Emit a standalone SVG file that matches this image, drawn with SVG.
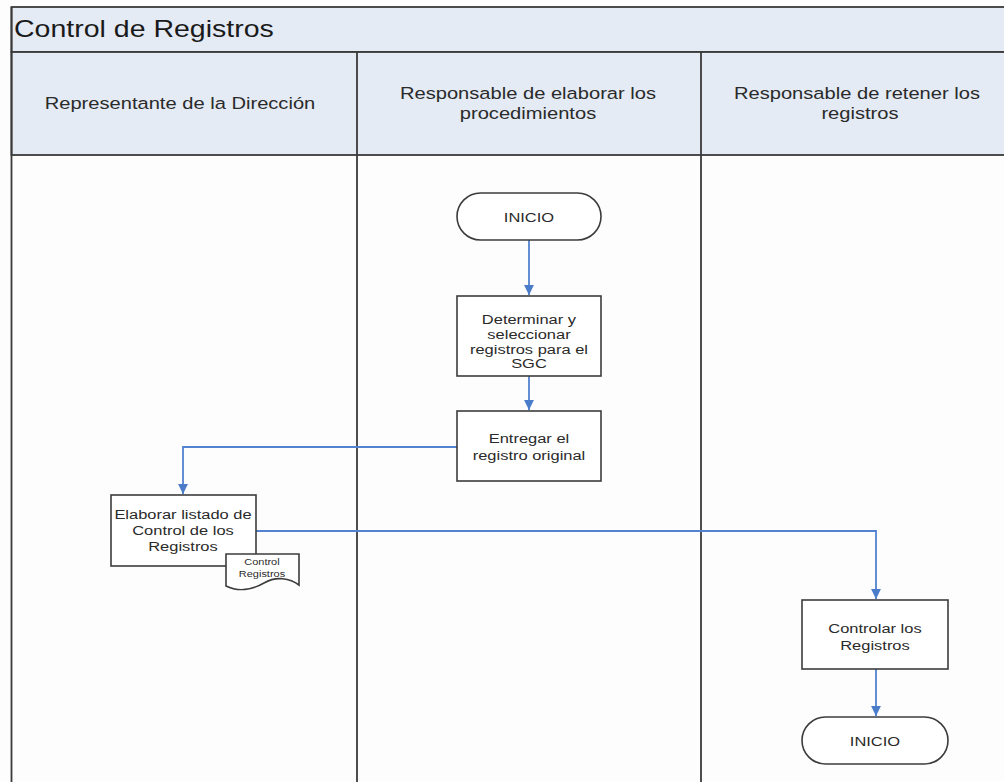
<svg xmlns="http://www.w3.org/2000/svg" width="1004" height="782" viewBox="0 0 1004 782">
  <style>
    .bg { fill: #fdfdfd; }
    .band { fill: #e4ebf5; stroke: #3a3a3a; stroke-width: 1.8; }
    .lane { fill: none; stroke: #3a3a3a; stroke-width: 1.8; }
    .shape { fill: #ffffff; stroke: #3c3c3c; stroke-width: 1.6; }
    .flow { fill: none; stroke: #5283d0; stroke-width: 1.8; }
    text { font-family: "Liberation Sans", Arial, sans-serif; fill: #2a2a2a; }
    .wide { transform-box: fill-box; transform-origin: center; transform: scaleX(1.22); }
    .title { font-size: 23px; text-anchor: start; transform-box: fill-box; transform-origin: left; transform: scaleX(1.24); fill: #1a1a1a; }
    .head { font-size: 16.5px; text-anchor: middle; }
    .lbl { font-size: 13.5px; text-anchor: middle; }
    .small { font-size: 9px; text-anchor: middle; }
  </style>
  <defs>
    <marker id="arrow" viewBox="0 0 10 10" refX="10" refY="5" markerWidth="5.5" markerHeight="5.5" orient="auto" markerUnits="strokeWidth">
      <path d="M0,0 L10,5 L0,10 Z" fill="#4a7cc9"/>
    </marker>
  </defs>

  <rect class="bg" x="0" y="0" width="1004" height="782"/>

  <!-- pool frame, title band and lane headers -->
  <g id="pool">
    <rect class="band" x="11.5" y="7" width="1002" height="45"/>
    <text class="title" x="14" y="37">Control de Registros</text>
    <rect class="band" x="11.5" y="52" width="1002" height="103"/>
    <line class="lane" x1="11.5" y1="7" x2="11.5" y2="790"/>
    <line class="lane" x1="357" y1="52" x2="357" y2="790"/>
    <line class="lane" x1="701" y1="52" x2="701" y2="790"/>
    <line class="lane" x1="1013" y1="7" x2="1013" y2="790"/>
  </g>
  <g id="lane-direccion">
    <text class="head wide" x="180" y="109">Representante de la Dirección</text>
  </g>
  <g id="lane-procedimientos">
    <text class="head wide" x="528" y="99">Responsable de elaborar los</text>
    <text class="head wide" x="528" y="119">procedimientos</text>
  </g>
  <g id="lane-registros">
    <text class="head wide" x="857" y="99">Responsable de retener los</text>
    <text class="head wide" x="860" y="119">registros</text>
  </g>

  <!-- connectors -->
  <g id="connectors">
    <path class="flow" d="M529,240 V295" marker-end="url(#arrow)"/>
    <path class="flow" d="M529,376 V410" marker-end="url(#arrow)"/>
    <path class="flow" d="M457,447 H183 V494" marker-end="url(#arrow)"/>
    <path class="flow" d="M256,531 H876 V599" marker-end="url(#arrow)"/>
    <path class="flow" d="M876,669 V716" marker-end="url(#arrow)"/>
  </g>

  <!-- nodes -->
  <g id="inicio">
    <rect class="shape" x="457" y="193" width="144" height="47" rx="23.5" ry="23.5"/>
    <text class="lbl wide" x="529" y="222">INICIO</text>
  </g>
  <g id="determinar">
    <rect class="shape" x="457" y="296" width="144" height="80"/>
    <text class="lbl wide" x="529" y="324">Determinar y</text>
    <text class="lbl wide" x="529" y="339">seleccionar</text>
    <text class="lbl wide" x="529" y="354">registros para el</text>
    <text class="lbl wide" x="529" y="368">SGC</text>
  </g>
  <g id="entregar">
    <rect class="shape" x="457" y="411" width="144" height="70"/>
    <text class="lbl wide" x="529" y="443">Entregar el</text>
    <text class="lbl wide" x="529" y="460">registro original</text>
  </g>
  <g id="elaborar">
    <rect class="shape" x="111" y="495" width="145" height="71"/>
    <text class="lbl wide" x="183" y="519">Elaborar listado de</text>
    <text class="lbl wide" x="183" y="535">Control de los</text>
    <text class="lbl wide" x="183" y="551">Registros</text>
  </g>
  <g id="documento">
    <path class="shape" d="M226,554 H299 V585 C290,578 276,576 264,583 C252,590 238,592 226,586 Z"/>
    <text class="small wide" x="262" y="565">Control</text>
    <text class="small wide" x="262" y="577">Registros</text>
  </g>
  <g id="controlar">
    <rect class="shape" x="802" y="600" width="146" height="69"/>
    <text class="lbl wide" x="875" y="633">Controlar los</text>
    <text class="lbl wide" x="875" y="650">Registros</text>
  </g>
  <g id="fin">
    <rect class="shape" x="802" y="717" width="146" height="47" rx="23.5" ry="23.5"/>
    <text class="lbl wide" x="875" y="746">INICIO</text>
  </g>
</svg>
